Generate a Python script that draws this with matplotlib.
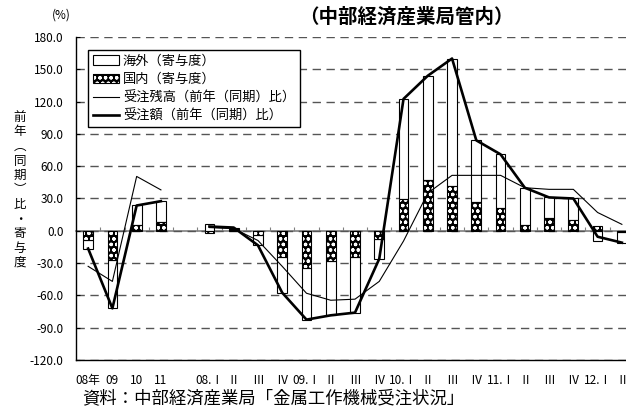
import numpy as np
import matplotlib
matplotlib.use('Agg')
import matplotlib.pyplot as plt
from matplotlib.patches import Patch
from matplotlib.lines import Line2D
from matplotlib.ticker import FormatStrFormatter

plt.rcParams['font.family'] = ['Noto Sans CJK JP', 'DejaVu Sans']
plt.rcParams['hatch.linewidth'] = 0.9

# 暦年
year_labels = ['08年', '09', '10', '11']
year_domestic = [-9, -27, 5, 8.5]
year_overseas = [-7.5, -45, 18.5, 19]
year_orders = [-16.5, -72, 23.5, 27.5]
year_backlog = [-33, -47, 50.5, 38]

# 四半期
quarter_labels = ['08.Ⅰ', 'Ⅱ', 'Ⅲ', 'Ⅳ', '09.Ⅰ', 'Ⅱ', 'Ⅲ', 'Ⅳ', '10.Ⅰ', 'Ⅱ', 'Ⅲ', 'Ⅳ',
                  '11.Ⅰ', 'Ⅱ', 'Ⅲ', 'Ⅳ', '12.Ⅰ', 'Ⅱ']
quarter_domestic = [-2, 1.5, -3.5, -24.5, -34.5, -28, -24.5, -8, 29.5, 47, 42, 27,
                    21.5, 5, 12, 10, 4, -1]
quarter_overseas = [6, 1.5, -10, -33, -48, -50.5, -51.5, -18, 93, 97, 118, 57,
                    49.5, 35, 19, 20, -9.5, -10]
quarter_orders = [4, 3, -13.5, -57.5, -82.5, -78.5, -76, -26, 122.5, 144, 160, 84,
                  71, 40, 31, 30, -5.5, -11]
quarter_backlog = [3, 2, -9, -33, -58, -64.5, -63.5, -47, -9.5, 35, 51.5, 51.5,
                   51.5, 40, 38.5, 38.5, 17, 6]

x_year = np.arange(len(year_labels))
x_quarter = np.arange(len(quarter_labels)) + len(year_labels) + 1
n_slots = len(year_labels) + 1 + len(quarter_labels)

fig = plt.figure(figsize=(6.26, 4.12), dpi=100)
ax = fig.add_axes([76 / 626, 1 - 360 / 412, 558 / 626, 323 / 412])

BAR_W = 0.4
HATCH = 'ooo'


def draw_bars(x, dom, ovs):
    dom = np.asarray(dom, float)
    ovs = np.asarray(ovs, float)
    # 海外分は国内分と同符号なら積み上げ、異符号ならゼロから
    base = np.where(np.sign(dom) == np.sign(ovs), dom, 0.0)
    ax.bar(x, ovs, BAR_W, bottom=base, facecolor='white', edgecolor='black',
           linewidth=0.8, zorder=2)
    ax.bar(x, dom, BAR_W, facecolor='black', edgecolor='white', hatch=HATCH,
           linewidth=0, zorder=2)
    ax.bar(x, dom, BAR_W, facecolor='none', edgecolor='black', linewidth=0.8, zorder=2)


draw_bars(x_year, year_domestic, year_overseas)
draw_bars(x_quarter, quarter_domestic, quarter_overseas)

for x, backlog, orders in [(x_year, year_backlog, year_orders),
                           (x_quarter, quarter_backlog, quarter_orders)]:
    ax.plot(x, backlog, color='black', linewidth=0.8, zorder=3)
    ax.plot(x, orders, color='black', linewidth=1.9, zorder=4)

ax.set_xlim(-0.5, n_slots - 0.5)
ax.set_ylim(-120, 180)
ax.set_yticks(np.arange(-120, 181, 30))
ax.yaxis.set_major_formatter(FormatStrFormatter('%.1f'))
ax.tick_params(axis='y', direction='in', length=3, pad=9, labelsize=8.5)

ax.set_xticks(np.concatenate([x_year, [len(year_labels)], x_quarter]))
ax.set_xticklabels(year_labels + [''] + quarter_labels)
ax.tick_params(axis='x', length=0, pad=10, labelsize=8.5)

ax.set_axisbelow(True)
ax.yaxis.grid(True, color='#555555', linewidth=1.0, linestyle=(0, (6, 4)))
for side in ['top', 'right']:
    ax.spines[side].set_visible(False)
for side in ['left', 'bottom']:
    ax.spines[side].set_linewidth(1.0)

# ゼロ線と区切り目盛
zero_axis = ax.secondary_xaxis(120 / 300)
zero_axis.set_xticks(np.arange(n_slots - 1) + 0.5)
zero_axis.tick_params(direction='in', length=3, labelbottom=False, color='#808080')
zero_axis.spines['bottom'].set_color('#808080')
zero_axis.spines['bottom'].set_linewidth(1.2)

handles = [
    Patch(facecolor='white', edgecolor='black', linewidth=0.8),
    (Patch(facecolor='black', edgecolor='white', hatch=HATCH, linewidth=0),
     Patch(facecolor='none', edgecolor='black', linewidth=0.8)),
    Line2D([], [], color='black', linewidth=0.8),
    Line2D([], [], color='black', linewidth=1.9),
]
labels = ['海外（寄与度）', '国内（寄与度）', '受注残高（前年（同期）比）', '受注額（前年（同期）比）']
leg = ax.legend(handles, labels, loc='upper left', bbox_to_anchor=(12 / 558, 310 / 323),
                borderaxespad=0, fancybox=False, framealpha=1, edgecolor='black',
                fontsize=9.5, handlelength=2.0, handletextpad=0.3, labelspacing=0.4,
                borderpad=0.35)
leg.get_frame().set_linewidth(1.0)
leg.set_zorder(5)

fig.text(406 / 626, 1 - 17 / 412, '（中部経済産業局管内）', ha='center', va='center',
         fontsize=14, fontweight='bold')
fig.text(61 / 626, 1 - 15 / 412, '(%)', ha='center', va='center', fontsize=8.5)
fig.text(20 / 626, 1 - 190 / 412, '前\n年\n︵\n同\n期\n︶\n比\n・\n寄\n与\n度',
         ha='center', va='center', fontsize=9, linespacing=1.15)
fig.text(82 / 626, 1 - 398 / 412, '資料：中部経済産業局「金属工作機械受注状況」',
         ha='left', va='center', fontsize=12.5)

fig.savefig('out.png', dpi=100)
